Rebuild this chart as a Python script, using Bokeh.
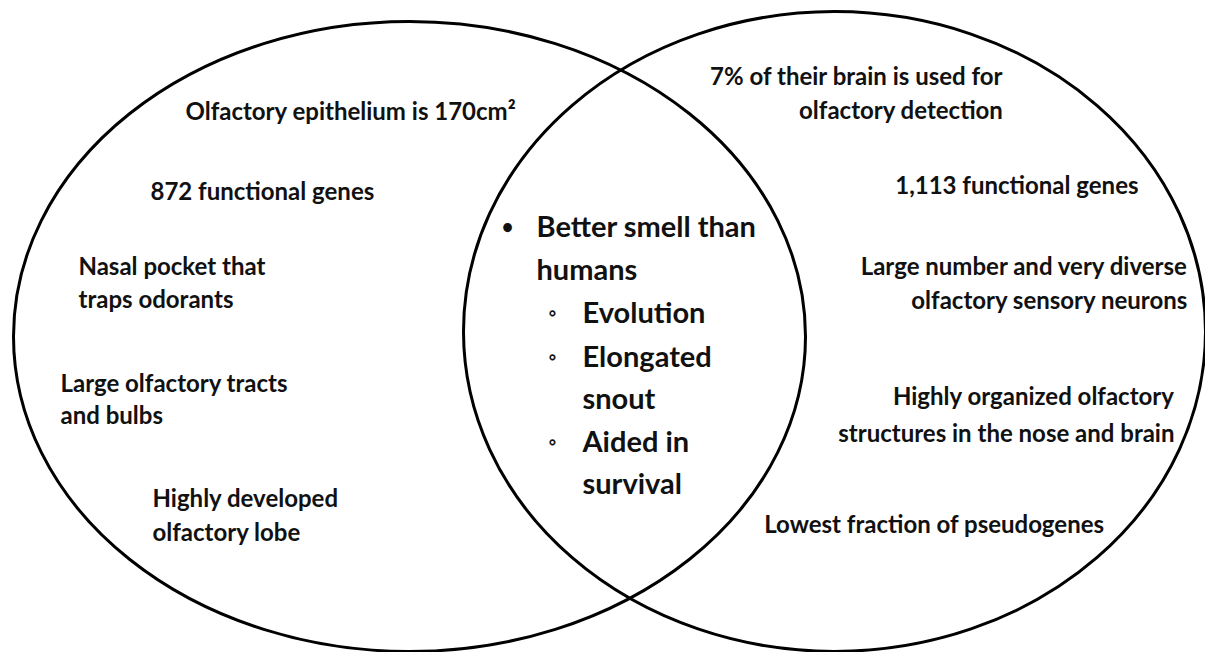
from bokeh.plotting import figure
from bokeh.models import Range1d
from bokeh.core.properties import value
from bokeh.embed import file_html
from bokeh.resources import INLINE

# Venn sets (ellipse geometry in reference pixels)
set_names = ["Left", "Right"]
set_cx = [409, 834]
set_cy = [336, 331]
set_w = [792, 742]
set_h = [630, 640]

# Left-only items (one entry per line)
left_lines = ["Olfactory epithelium is 170cm\u00b2", "872 functional genes",
              "Nasal pocket that", "traps odorants",
              "Large olfactory tracts", "and bulbs",
              "Highly developed", "olfactory lobe"]
left_x = [185, 150, 78, 78, 60, 60, 152, 152]
left_y = [110, 190, 265, 298, 382, 414, 497, 531]

# Right-only items (right aligned lines)
right_lines = ["7% of their brain is used for", "olfactory detection",
               "1,113 functional genes",
               "Large number and very diverse", "olfactory sensory neurons",
               "Highly organized olfactory", "structures in the nose and brain",
               "Lowest fraction of pseudogenes"]
right_x = [1003, 1003, 1138, 1188, 1188, 1174, 1174, 1104]
right_y = [75, 109, 184, 265, 299, 395, 432, 523]

# Shared items
center_lines = ["Better smell than", "humans", "Evolution", "Elongated",
                "snout", "Aided in", "survival"]
center_x = [536, 536, 582, 582, 582, 582, 582]
center_y = [225, 268, 311, 355, 397, 440, 482]
bullets = ["\u2022", "\u25e6", "\u25e6", "\u25e6"]
bullet_x = [507, 552, 552, 552]
bullet_y = [225, 311, 355, 440]

W, H = 1205, 652
p = figure(width=W, height=H, output_backend="svg", toolbar_location=None,
           x_range=Range1d(0, W), y_range=Range1d(H, 0),
           min_border=0, outline_line_color=None)
p.xaxis.visible = False
p.yaxis.visible = False
p.grid.visible = False
p.background_fill_color = "white"

p.ellipse(x=set_cx, y=set_cy, width=set_w, height=set_h,
          fill_color=None, line_color="black", line_width=3)

font = value("Lato")
p.text(x=left_x, y=left_y, text=left_lines, text_font=font,
       text_font_size="24px", text_font_style="bold", text_color="#111111",
       text_align="left", text_baseline="middle")
p.text(x=right_x, y=right_y, text=right_lines, text_font=font,
       text_font_size="24px", text_font_style="bold", text_color="#111111",
       text_align="right", text_baseline="middle")
p.text(x=center_x, y=center_y, text=center_lines, text_font=font,
       text_font_size="29px", text_font_style="bold", text_color="#111111",
       text_align="left", text_baseline="middle")
p.text(x=bullet_x, y=bullet_y, text=bullets, text_font=font,
       text_font_size="20px", text_font_style="bold", text_color="#111111",
       text_align="center", text_baseline="middle")

open("out.html", "w").write(file_html(p, INLINE))
